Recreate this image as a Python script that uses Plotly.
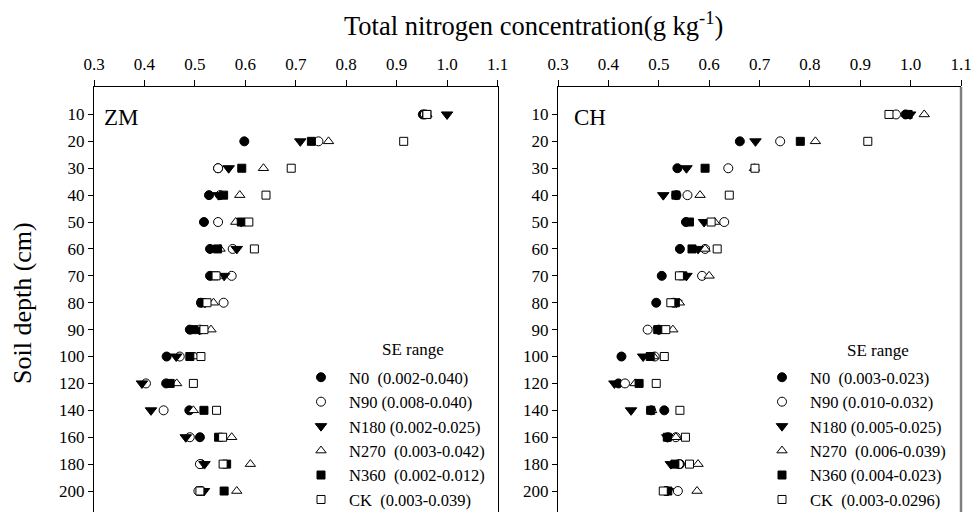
import plotly.graph_objects as go

depths = ["10", "20", "30", "40", "50", "60", "70", "80", "90", "100",
          "120", "140", "160", "180", "200"]
x_ticks = [0.3, 0.4, 0.5, 0.6, 0.7, 0.8, 0.9, 1.0, 1.1]

zm_N0   = [0.952, 0.598, 0.546, 0.528, 0.518, 0.530, 0.530, 0.512, 0.490, 0.444, 0.443, 0.489, 0.510, 0.512, 0.512]
zm_N90  = [0.956, 0.745, 0.546, 0.550, 0.546, 0.575, 0.573, 0.557, 0.510, 0.470, 0.403, 0.438, 0.490, 0.510, 0.507]
zm_N180 = [1.000, 0.709, 0.567, 0.547, 0.592, 0.583, 0.558, 0.520, 0.509, 0.463, 0.395, 0.413, 0.482, 0.519, 0.518]
zm_N270 = [0.960, 0.765, 0.636, 0.589, 0.581, 0.550, 0.545, 0.537, 0.532, 0.500, 0.464, 0.497, 0.573, 0.610, 0.583]
zm_N360 = [0.960, 0.731, 0.593, 0.557, 0.592, 0.545, 0.538, 0.514, 0.497, 0.490, 0.451, 0.518, 0.547, 0.563, 0.558]
zm_CK   = [0.960, 0.914, 0.691, 0.641, 0.607, 0.618, 0.542, 0.524, 0.518, 0.512, 0.497, 0.543, 0.555, 0.556, 0.510]

ch_N0   = [0.990, 0.661, 0.537, 0.535, 0.554, 0.542, 0.506, 0.495, 0.500, 0.426, 0.420, 0.511, 0.518, 0.542, 0.515]
ch_N90  = [0.971, 0.741, 0.638, 0.557, 0.630, 0.592, 0.586, 0.530, 0.478, 0.492, 0.433, 0.485, 0.534, 0.540, 0.538]
ch_N180 = [0.999, 0.692, 0.555, 0.509, 0.590, 0.578, 0.555, 0.535, 0.500, 0.469, 0.412, 0.445, 0.517, 0.524, 0.518]
ch_N270 = [1.027, 0.811, 0.690, 0.582, 0.611, 0.592, 0.600, 0.541, 0.528, 0.490, 0.453, 0.486, 0.534, 0.578, 0.576]
ch_N360 = [0.995, 0.781, 0.592, 0.534, 0.561, 0.566, 0.548, 0.533, 0.498, 0.483, 0.461, 0.484, 0.517, 0.532, 0.518]
ch_CK   = [0.957, 0.915, 0.691, 0.640, 0.604, 0.616, 0.541, 0.524, 0.514, 0.511, 0.495, 0.542, 0.553, 0.561, 0.509]

treatments = ["N0", "N90", "N180", "N270", "N360", "CK"]
zm_se = ["N0  (0.002-0.040)", "N90 (0.008-0.040)", "N180 (0.002-0.025)",
         "N270  (0.003-0.042)", "N360  (0.002-0.012)", "CK  (0.003-0.039)"]
ch_se = ["N0  (0.003-0.023)", "N90 (0.010-0.032)", "N180 (0.005-0.025)",
         "N270  (0.006-0.039)", "N360 (0.004-0.023)", "CK  (0.003-0.0296)"]

zm_data = [zm_N0, zm_N90, zm_N180, zm_N270, zm_N360, zm_CK]
ch_data = [ch_N0, ch_N90, ch_N180, ch_N270, ch_N360, ch_CK]

styles = {
    "N0":   dict(symbol="circle", color="black", size=9),
    "N90":  dict(symbol="circle", color="white", size=9),
    "N180": dict(symbol="triangle-down", color="black", size=10),
    "N270": dict(symbol="triangle-up", color="white", size=9),
    "N360": dict(symbol="square", color="black", size=8),
    "CK":   dict(symbol="square", color="white", size=8),
}

FONT = "Liberation Serif, Times New Roman, serif"
fig = go.Figure()

for panel, data, names, xa, ya, lg in [
    ("ZM", zm_data, zm_se, "x", "y", "legend"),
    ("CH", ch_data, ch_se, "x2", "y2", "legend2"),
]:
    for t, vals, nm in zip(treatments, data, names):
        s = styles[t]
        fig.add_trace(go.Scatter(
            x=vals, y=depths, mode="markers", name=nm,
            xaxis=xa, yaxis=ya, legend=lg,
            marker=dict(symbol=s["symbol"], color=s["color"], size=s["size"],
                        line=dict(color="black", width=1)),
        ))

top = 1 - 87 / 512
yrange = [14.78, -1.02]
xcommon = dict(range=[0.3, 1.1], tickvals=x_ticks, ticktext=[f"{v:.1f}" for v in x_ticks],
               side="top", showline=True, linecolor="black", linewidth=1, automargin=False,
               ticks="outside", ticklen=6, tickcolor="black", showgrid=False,
               ticklabelstandoff=3,
               zeroline=False, tickfont=dict(family=FONT, size=17, color="black"))
ycommon = dict(type="category", categoryarray=depths, range=yrange, domain=[0, top],
               showline=True, linecolor="black", linewidth=1, ticks="outside", automargin=False,
               ticklen=5, tickcolor="black", showgrid=False, zeroline=False,
               tickfont=dict(family=FONT, size=17, color="black"))

LEG_FONT = 16.5
leg_common = dict(xanchor="left", yanchor="top", bgcolor="rgba(0,0,0,0)",
                  font=dict(family=FONT, size=LEG_FONT, color="black"),
                  tracegroupgap=0, itemclick=False, itemdoubleclick=False, itemwidth=46)

fig.update_layout(
    width=972, height=512,
    margin=dict(l=0, r=0, t=0, b=0, autoexpand=False),
    paper_bgcolor="white", plot_bgcolor="white",
    font=dict(family=FONT, color="black"),
    xaxis=dict(domain=[94 / 972, 497.5 / 972], anchor="y", **xcommon),
    yaxis=dict(anchor="x", mirror=True, **ycommon),
    xaxis2=dict(domain=[558 / 972, 961 / 972], anchor="y2", **xcommon),
    yaxis2=dict(anchor="x2", mirror=False, **ycommon),
    legend=dict(x=293 / 972, y=1 - 360 / 512, **leg_common),
    legend2=dict(x=754 / 972, y=1 - 360 / 512, **leg_common),
    showlegend=True,
)

fig.add_shape(type="line", xref="x2 domain", yref="y2 domain", x0=1, x1=1, y0=0, y1=1,
              line=dict(color="#7f7f7f", width=2.5))

fig.add_annotation(text="Total nitrogen concentration(g kg<sup>-1</sup>)", x=533 / 972, y=1 - 24 / 512,
                   xref="paper", yref="paper", yanchor="middle", showarrow=False,
                   font=dict(family=FONT, size=26.5))
fig.add_annotation(text="Soil depth (cm)", x=22 / 972, y=1 - 303 / 512, textangle=-90,
                   xref="paper", yref="paper", xanchor="center", yanchor="middle", showarrow=False,
                   font=dict(family=FONT, size=26))
fig.add_annotation(text="ZM", x=0.02, y=1, xref="x domain", yref="y domain",
                   xanchor="left", yanchor="top", yshift=-16, showarrow=False,
                   font=dict(family=FONT, size=23))
fig.add_annotation(text="CH", x=0.035, y=1, xref="x2 domain", yref="y2 domain",
                   xanchor="left", yanchor="top", yshift=-16, showarrow=False,
                   font=dict(family=FONT, size=23))
fig.add_annotation(text="SE range", x=413 / 972, y=1 - 349 / 512, xref="paper", yref="paper",
                   xanchor="center", yanchor="middle", showarrow=False,
                   font=dict(family=FONT, size=17))
fig.add_annotation(text="SE range", x=878 / 972, y=1 - 350 / 512, xref="paper", yref="paper",
                   xanchor="center", yanchor="middle", showarrow=False,
                   font=dict(family=FONT, size=17))

fig.write_html("out.html")
